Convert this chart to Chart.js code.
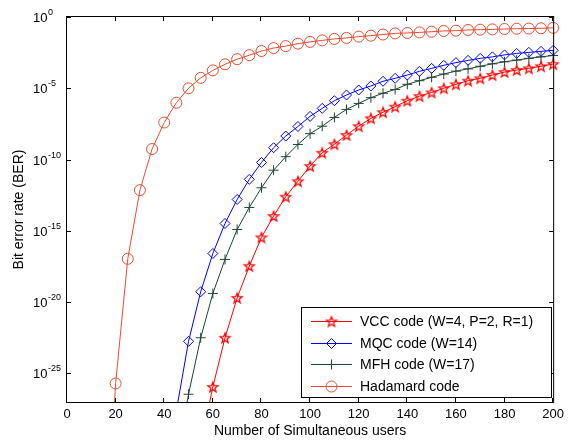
<!DOCTYPE html>
<html>
<head>
<meta charset="utf-8">
<script src="https://cdn.jsdelivr.net/npm/chart.js@4.4.1/dist/chart.umd.min.js"></script>
<style>
html, body { margin: 0; padding: 0; background: #fff; }
#wrap { width: 569px; height: 442px; }
</style>
</head>
<body>
<div id="wrap"><canvas id="berChart" width="569" height="442"></canvas></div>
<script>
// values (BER, log scale)
const usersVcc = [55,60,65,70,75,80,85,90,95,100,105,110,115,120,125,130,135,140,145,150,155,160,165,170,175,180,185,190,195,200];
const berVcc = [1e-30,1.15e-26,3.2e-23,2.0e-20,3.4e-18,3.5e-16,1.1e-14,2.5e-13,3.0e-12,3.5e-11,3.0e-10,1.2e-9,5.2e-9,2.2e-8,7.8e-8,2.1e-7,5.1e-7,1.35e-6,2.8e-6,5.1e-6,1.0e-5,1.9e-5,3.4e-5,5.0e-5,8.5e-5,1.38e-4,1.9e-4,2.5e-4,3.5e-4,5.0e-4];

const usersMqc = [45,50,55,60,65,70,75,80,85,90,95,100,105,110,115,120,125,130,135,140,145,150,155,160,165,170,175,180,185,190,195,200];
const berMqc = [2.5e-28,1.8e-23,5.4e-20,2.6e-17,3.3e-15,1.6e-13,4.1e-12,6.3e-11,6.8e-10,4.5e-9,2.1e-8,1.07e-7,3.9e-7,1.35e-6,3.4e-6,7.6e-6,1.45e-5,3.1e-5,5.0e-5,8.5e-5,1.55e-4,2.5e-4,4.1e-4,6.3e-4,9.1e-4,1.26e-3,1.6e-3,2.2e-3,2.8e-3,3.3e-3,3.9e-3,4.6e-3];

const usersMfh = [45,50,55,60,65,70,75,80,85,90,95,100,105,110,115,120,125,130,135,140,145,150,155,160,165,170,175,180,185,190,195,200];
const berMfh = [1e-31,3.5e-27,3.2e-23,4.1e-20,1.0e-17,1.26e-15,4.4e-14,1.05e-12,1.8e-11,1.6e-10,1.15e-9,6.6e-9,2.2e-8,9.1e-8,3.3e-7,8.7e-7,2.2e-6,4.5e-6,8.3e-6,1.9e-5,3.4e-5,5.9e-5,1.0e-4,1.6e-4,2.3e-4,3.5e-4,5.2e-4,7.2e-4,9.5e-4,1.26e-3,1.6e-3,2.0e-3];

const usersHad = [15,20,25,30,35,40,45,50,55,60,65,70,75,80,85,90,95,100,105,110,115,120,125,130,135,140,145,150,155,160,165,170,175,180,185,190,195,200];
const berHad = [1e-40,2.0e-26,1.1e-17,7.2e-13,5.5e-10,4.0e-8,9.8e-7,1.0e-5,5.4e-5,1.8e-4,4.8e-4,1.1e-3,2.1e-3,4.1e-3,6.6e-3,9.1e-3,1.35e-2,1.8e-2,2.3e-2,2.9e-2,3.4e-2,4.2e-2,4.9e-2,5.9e-2,7.1e-2,7.6e-2,8.3e-2,9.3e-2,0.105,0.11,0.123,0.129,0.135,0.145,0.151,0.155,0.162,0.174];

const seriesNames = ['VCC code (W=4, P=2, R=1)', 'MQC code (W=14)', 'MFH code (W=17)', 'Hadamard code'];
const yTickExps = [0, -5, -10, -15, -20, -25];

const colVcc = '#ff0000';
const colMqc = '#0000ff';
const colMfh = '#1f4434';
const colHad = '#e64d33';

// five pointed star marker (Chart.js has no pentagram)
function makeStar(color) {
    const c = document.createElement('canvas');
    c.width = 14; c.height = 14;
    const g = c.getContext('2d');
    g.strokeStyle = color;
    g.lineWidth = 1.3;
    g.beginPath();
    for (let i = 0; i < 10; i++) {
        const r = i % 2 === 0 ? 5.2 : 2.2;
        const a = -Math.PI / 2 + i * Math.PI / 5;
        const px = 7 + r * Math.cos(a), py = 7.5 + r * Math.sin(a);
        if (i === 0) g.moveTo(px, py); else g.lineTo(px, py);
    }
    g.closePath();
    g.stroke();
    return c;
}
const starImg = makeStar(colVcc);

function makeSet(label, xs, ys, color, style, radius) {
    return {
        label: label,
        data: xs.map((x, i) => ({ x: x, y: ys[i] })),
        borderColor: color,
        backgroundColor: 'rgba(0,0,0,0)',
        pointBorderColor: color,
        pointBackgroundColor: 'rgba(0,0,0,0)',
        pointStyle: style,
        pointRadius: radius,
        pointBorderWidth: 1,
        borderWidth: 1,
        tension: 0,
        clip: { left: 10, right: 10, top: 10, bottom: 0 }
    };
}

function drawMarker(ctx, style, x, y, color) {
    ctx.save();
    ctx.strokeStyle = color;
    ctx.lineWidth = 1;
    ctx.beginPath();
    if (style === 'circle') {
        ctx.arc(x, y, 5.5, 0, Math.PI * 2);
        ctx.stroke();
    } else if (style === 'rectRot') {
        ctx.moveTo(x - 5, y); ctx.lineTo(x, y - 5); ctx.lineTo(x + 5, y); ctx.lineTo(x, y + 5);
        ctx.closePath();
        ctx.stroke();
    } else if (style === 'cross') {
        ctx.moveTo(x - 5, y); ctx.lineTo(x + 5, y);
        ctx.moveTo(x, y - 5); ctx.lineTo(x, y + 5);
        ctx.stroke();
    } else {
        ctx.drawImage(style, x - 7, y - 7);
    }
    ctx.restore();
}

const frame = {
    id: 'frame',
    afterDraw(chart) {
        const ctx = chart.ctx;
        const a = chart.chartArea;
        const xs = chart.scales.x, ys = chart.scales.y;
        ctx.save();
        ctx.strokeStyle = '#000';
        ctx.lineWidth = 1;
        ctx.strokeRect(a.left - 0.5, a.top - 0.5, a.right - a.left + 1, a.bottom - a.top + 1);

        // inward ticks
        ctx.beginPath();
        for (let v = 0; v <= 200; v += 20) {
            const px = Math.round(xs.getPixelForValue(v)) - 0.5;
            ctx.moveTo(px, a.bottom); ctx.lineTo(px, a.bottom - 4);
            ctx.moveTo(px, a.top); ctx.lineTo(px, a.top + 4);
        }
        yTickExps.forEach(e => {
            const py = Math.round(ys.getPixelForValue(Math.pow(10, e))) + 0.5;
            ctx.moveTo(a.left, py); ctx.lineTo(a.left + 4, py);
            ctx.moveTo(a.right, py); ctx.lineTo(a.right - 4, py);
        });
        ctx.stroke();

        // y tick labels 10^n
        ctx.fillStyle = '#000';
        ctx.textAlign = 'left';
        ctx.textBaseline = 'alphabetic';
        yTickExps.forEach(e => {
            const py = ys.getPixelForValue(Math.pow(10, e));
            ctx.font = '13px "Liberation Sans", Arial, sans-serif';
            ctx.fillText('10', 33, py + 5);
            const w = ctx.measureText('10').width;
            ctx.font = '9px "Liberation Sans", Arial, sans-serif';
            ctx.fillText(String(e), 33 + w + 0.5, py - 2);
        });

        // axis titles
        ctx.font = '14px "Liberation Sans", Arial, sans-serif';
        ctx.textAlign = 'center';
        ctx.fillText('Number of Simultaneous users', (a.left + a.right) / 2, 435);
        ctx.save();
        ctx.translate(23, (a.top + a.bottom) / 2);
        ctx.rotate(-Math.PI / 2);
        ctx.fillText('Bit error rate (BER)', 0, 0);
        ctx.restore();

        // legend box
        const lx = 301, ly = 307, lw = 250, lh = 90;
        ctx.fillStyle = '#fff';
        ctx.fillRect(lx, ly, lw, lh);
        ctx.strokeStyle = '#000';
        ctx.strokeRect(lx + 0.5, ly + 0.5, lw, lh);
        const rows = [
            { name: seriesNames[0], color: colVcc, style: starImg },
            { name: seriesNames[1], color: colMqc, style: 'rectRot' },
            { name: seriesNames[2], color: colMfh, style: 'cross' },
            { name: seriesNames[3], color: colHad, style: 'circle' }
        ];
        rows.forEach((r, i) => {
            const ry = Math.round(321 + i * 21.5) + 0.5;
            ctx.save();
            ctx.strokeStyle = r.color;
            ctx.lineWidth = 1;
            ctx.beginPath();
            ctx.moveTo(311, ry); ctx.lineTo(352, ry);
            ctx.stroke();
            ctx.restore();
            drawMarker(ctx, r.style, 331.5, ry, r.color);
            ctx.fillStyle = '#000';
            ctx.textAlign = 'left';
            ctx.textBaseline = 'middle';
            ctx.font = '14px "Liberation Sans", Arial, sans-serif';
            ctx.fillText(r.name, 360, ry + 0.5);
        });
        ctx.restore();
    }
};

new Chart(document.getElementById('berChart'), {
    type: 'line',
    data: {
        datasets: [
            makeSet(seriesNames[0], usersVcc, berVcc, colVcc, starImg, 5),
            makeSet(seriesNames[1], usersMqc, berMqc, colMqc, 'rectRot', 5),
            makeSet(seriesNames[2], usersMfh, berMfh, colMfh, 'cross', 5),
            makeSet(seriesNames[3], usersHad, berHad, colHad, 'circle', 5.5)
        ]
    },
    options: {
        responsive: false,
        animation: false,
        events: [],
        layout: { padding: { left: 0, top: 17, right: 13, bottom: 0 } },
        plugins: { legend: { display: false }, tooltip: { enabled: false } },
        scales: {
            x: {
                type: 'linear',
                min: 0,
                max: 200,
                grid: { display: false, drawTicks: false },
                border: { display: false },
                ticks: {
                    stepSize: 20,
                    padding: 5,
                    color: '#000',
                    maxRotation: 0,
                    font: { family: '"Liberation Sans", Arial, sans-serif', size: 13 }
                },
                afterFit: s => { s.height = 40; }
            },
            y: {
                type: 'logarithmic',
                min: 1e-27,
                max: 1,
                grid: { display: false },
                border: { display: false },
                ticks: { display: false },
                afterBuildTicks: s => { s.ticks = yTickExps.map(e => ({ value: Math.pow(10, e) })); },
                afterFit: s => { s.width = 67; }
            }
        }
    },
    plugins: [frame]
});
</script>
</body>
</html>
